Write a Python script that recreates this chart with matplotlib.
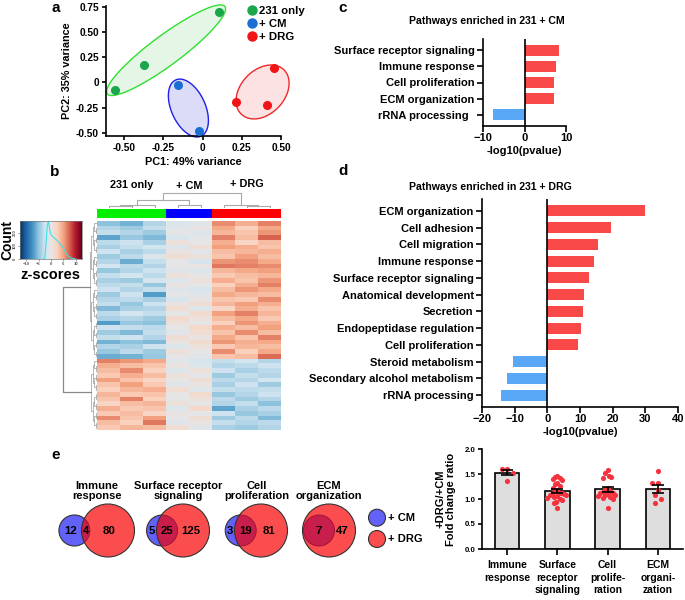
import numpy as np
import matplotlib.pyplot as plt
from matplotlib.colors import LinearSegmentedColormap, to_rgb
from matplotlib.lines import Line2D
from matplotlib.patches import Circle

plt.rcParams['font.family'] = ['Liberation Sans', 'DejaVu Sans']
plt.rcParams['font.weight'] = 'bold'
plt.rcParams['axes.labelweight'] = 'bold'
plt.rcParams['axes.linewidth'] = 1.2
plt.rcParams['xtick.major.width'] = 1.2
plt.rcParams['ytick.major.width'] = 1.2

# ---------------- data ----------------
# a: PCA
pca_groups = ['231 only', '+ CM', '+ DRG']
pc1_231 = [-0.56, -0.375, 0.105]
pc2_231 = [-0.08, 0.175, 0.70]
pc1_cm = [-0.155, -0.025]
pc2_cm = [-0.03, -0.48]
pc1_drg = [0.213, 0.457, 0.41]
pc2_drg = [-0.197, 0.148, -0.227]

# c: pathways in 231 + CM
cm_pathways = ['Surface receptor signaling', 'Immune response', 'Cell proliferation',
               'ECM organization', 'rRNA processing  ']
cm_logp = [8.3, 7.5, 7.2, 7.0, -7.7]

# d: pathways in 231 + DRG
drg_pathways = ['ECM organization', 'Cell adhesion', 'Cell migration', 'Immune response',
                'Surface receptor signaling', 'Anatomical development', 'Secretion',
                'Endopeptidase regulation', 'Cell proliferation', 'Steroid metabolism',
                'Secondary alcohol metabolism', 'rRNA processing']
drg_logp = [30.0, 19.6, 15.4, 14.4, 12.9, 11.2, 10.8, 10.4, 9.3, -10.4, -12.4, -14.2]

# b: heatmap z-scores (cols: 231 only x3, + CM x2, + DRG x3)
hm_groups = ['231 only', '+ CM', '+ DRG']
hm_group_sizes = [3, 2, 3]
z_cluster1 = [
    [-1.4, -1.6, -1.0, -0.3, -0.2, 1.6, 1.2, 1.7],
    [-1.0, -1.2, -0.8, -0.2, 0.1, 1.3, 0.7, 1.3],
    [-0.8, -1.0, -1.2, 0.0, -0.3, 1.1, 0.9, 1.5],
    [-1.8, -1.3, -1.5, -0.4, -0.1, 1.7, 1.0, 2.0],
    [-0.9, -0.7, -1.1, 0.2, 0.0, 1.2, 0.6, 1.0],
    [-1.1, -0.8, -0.6, -0.3, 0.3, 1.4, 1.2, 0.9],
    [-0.7, -1.1, -0.9, 0.1, -0.2, 1.0, 1.1, 1.2],
    [-1.2, -0.9, -0.3, 0.3, 0.2, 0.9, 1.4, 1.0],
    [-1.0, -1.7, -0.8, -0.1, -0.5, 1.5, 1.6, 1.3],
    [-0.6, -0.9, -1.0, 0.0, 0.1, 1.8, 1.7, 1.6],
    [-1.3, -1.0, -0.7, -0.2, -0.3, 1.1, 1.3, 1.4],
    [-0.8, -0.6, -0.9, 0.2, 0.0, 0.8, 1.0, 1.1],
    [-1.1, -1.2, -0.5, -0.3, 0.2, 1.2, 0.9, 1.5],
    [-0.9, -0.8, -1.3, 0.1, -0.1, 0.7, 1.2, 1.7],
    [-0.7, -1.0, -0.8, -0.2, -0.4, 1.0, 1.5, 1.3],
    [-1.2, -0.7, -1.9, 0.0, -0.2, 1.3, 1.1, 1.0],
    [-1.0, -0.9, -1.1, -0.4, 0.1, 0.9, 0.8, 1.6],
    [-0.8, -1.3, -0.7, 0.1, 0.3, 1.1, 1.4, 1.2],
    [-1.5, -1.1, -1.0, 0.3, -0.3, 0.6, 1.2, 0.9],
    [-0.9, -0.6, -0.8, -0.1, 0.4, 1.4, 1.7, 1.1],
    [-1.1, -1.0, -1.2, 0.4, 0.2, 1.0, 1.3, 0.8],
    [-1.9, -1.3, -1.4, 0.2, -0.1, 0.7, 1.5, 1.2],
    [-0.7, -0.8, -0.9, 0.0, 0.5, 1.2, 1.0, 1.4],
    [-1.2, -1.5, -0.8, -0.2, 0.3, 0.9, 1.6, 1.0],
    [-0.8, -0.7, -1.0, 0.3, 0.1, 1.3, 0.9, 1.7],
    [-1.6, -1.4, -1.5, 0.1, 0.4, 1.5, 1.2, 1.3],
    [-1.0, -1.1, -0.7, -0.3, 0.2, 0.8, 1.1, 1.0],
    [-1.3, -0.9, -1.2, 0.2, 0.0, 1.6, 0.7, 1.3],
    [-1.7, -1.6, -1.3, 0.0, -0.2, 0.9, 1.0, 1.9],
]
z_cluster2 = [
    [1.7, 1.5, 1.3, -0.2, -0.5, -0.8, -0.6, -1.0],
    [1.2, 1.0, 0.9, 0.1, -0.3, -1.0, -0.9, -0.7],
    [1.0, 1.6, 0.7, -0.3, 0.2, -0.7, -1.1, -0.9],
    [0.8, 1.2, 1.0, 0.2, -0.1, -1.2, -0.8, -1.0],
    [1.4, 0.9, 0.6, 0.0, 0.3, -0.9, -1.0, -0.6],
    [0.9, 1.4, 0.8, -0.2, 0.1, -1.1, -0.7, -1.2],
    [0.7, 1.1, 1.2, 0.3, -0.2, -0.8, -0.9, -0.8],
    [1.1, 0.8, 0.9, 0.0, 0.4, -1.3, -1.0, -0.7],
    [0.9, 1.7, 0.7, -0.1, 0.2, -0.9, -1.2, -1.0],
    [0.6, 1.0, 1.1, 0.2, 0.0, -1.0, -0.8, -1.4],
    [1.2, 0.8, 0.9, -0.3, 0.5, -1.8, -1.1, -0.9],
    [0.8, 1.0, 0.6, 0.1, -0.1, -0.7, -1.3, -1.1],
    [1.6, 0.9, 1.4, 0.0, 0.3, -1.2, -0.9, -1.5],
    [1.0, 0.7, 1.8, -0.2, 0.1, -0.8, -1.0, -0.9],
    [0.8, 1.1, 1.0, 0.3, -0.2, -1.1, -1.2, -1.0],
]
# column dendrogram merges (left, right, height); leaves 0-7
col_merges = [(0, 1, 1.5), (8, 2, 2.0), (3, 4, 2.5), (6, 7, 1.2), (5, 11, 2.2),
              (9, 10, 6.0), (13, 12, 11.0)]
# colour key histogram
key_z = [-3, -2.5, -2, -1.5, -1, -0.5, 0, 1, 2, 3, 4, 5, 6, 7, 8, 9, 10]
key_count = [0, 10, 120, 260, 285, 220, 185, 165, 150, 130, 105, 82, 45, 22, 8, 3, 0]

# e: Venn counts
venn_titles = ['Immune\nresponse', 'Surface receptor\nsignaling', 'Cell\nproliferation',
               'ECM\norganization']
venn_cm_only = [12, 5, 3, 0]
venn_shared = [4, 25, 19, 7]
venn_drg_only = [80, 125, 81, 47]

# e: fold change ratios of shared genes
bar_labels = ['Immune\nresponse', 'Surface\nreceptor\nsignaling', 'Cell\nprolife-\nration',
              'ECM\norgani-\nzation']
ratio_immune = [1.61, 1.61, 1.52, 1.37]
ratio_surface = [1.47, 1.45, 1.42, 1.40, 1.38, 1.33, 1.30, 1.26, 1.22, 1.19, 1.16, 1.13, 1.12,
                 1.11, 1.10, 1.09, 1.08, 1.06, 1.05, 1.03, 1.01, 0.98, 0.95, 0.93, 0.83]
ratio_prolif = [1.58, 1.52, 1.47, 1.45, 1.43, 1.22, 1.20, 1.17, 1.15, 1.13, 1.12, 1.10, 1.09,
                1.08, 1.06, 1.05, 1.03, 1.00, 0.83]
ratio_ecm = [1.57, 1.32, 1.32, 1.18, 1.08, 1.00, 0.92]

# ---------------- figure ----------------
W, H = 685, 600
fig = plt.figure(figsize=(W / 100, H / 100), dpi=100)


def add_ax(left, top, width, height):
    return fig.add_axes([left / W, 1 - (top + height) / H, width / W, height / H])


def ftext(x, y, s, **kw):
    fig.text(x / W, 1 - y / H, s, **kw)


RED = '#f94848'
BLUE = '#59a8f7'

# ---- a ----
ax = add_ax(106, 6, 175, 130)
ax.set_xlim(-0.615, 0.5)
ax.set_ylim(-0.533, 0.76)
for s in ['top', 'right']:
    ax.spines[s].set_visible(False)
ax.set_xticks([-0.5, -0.25, 0, 0.25, 0.5])
ax.set_xticklabels(['-0.50', '-0.25', '0', '0.25', '0.50'])
ax.set_yticks([-0.5, -0.25, 0, 0.25, 0.5, 0.75])
ax.set_yticklabels(['-0.50', '-0.25', '0', '0.25', '0.50', '0.75'])
ax.tick_params(labelsize=7.3, length=3, pad=2)
ax.set_xlabel('PC1: 49% variance', fontsize=7.8, labelpad=3)
ax.set_ylabel('PC2: 35% variance', fontsize=7.8, labelpad=3)


def group_ellipse(xs, ys, pad, min_half, face, edge):
    pts = ax.transData.transform(np.column_stack([xs, ys]))
    c = pts.mean(axis=0)
    d = pts - c
    e1 = np.linalg.svd(d)[2][0]
    e2 = np.array([-e1[1], e1[0]])
    p1, p2 = d @ e1, d @ e2
    c = c + e1 * (p1.max() + p1.min()) / 2 + e2 * (p2.max() + p2.min()) / 2
    a = (p1.max() - p1.min()) / 2 + pad
    b = max((p2.max() - p2.min()) / 2 + pad, min_half)
    t = np.linspace(0, 2 * np.pi, 200)
    poly = c + np.outer(a * np.cos(t), e1) + np.outer(b * np.sin(t), e2)
    dd = ax.transData.inverted().transform(poly)
    ax.fill(dd[:, 0], dd[:, 1], facecolor=face, edgecolor=edge, lw=1.0, zorder=1, clip_on=False)


group_ellipse(pc1_231, pc2_231, 8, 15, '#e6f6e6', '#30e030')
group_ellipse(pc1_cm, pc2_cm, 6, 17, '#dcdcf8', '#2020e8')
group_ellipse(pc1_drg, pc2_drg, 5, 22, '#fce2e2', '#f02828')
ax.plot(pc1_231, pc2_231, 'o', color='#1aa64b', ms=5.5, zorder=3)
ax.plot(pc1_cm, pc2_cm, 'o', color='#1a6fd4', ms=5.5, zorder=3)
ax.plot(pc1_drg, pc2_drg, 'o', color='#f01414', ms=5.5, zorder=3)
handles = [Line2D([], [], ls='', marker='o', color=c, ms=6.5) for c in ['#1aa64b', '#1a6fd4', '#f01414']]
ax.legend(handles, pca_groups, loc='upper left',
          bbox_to_anchor=(246 / W, 1 - 6 / H), bbox_transform=fig.transFigure, frameon=False,
          handletextpad=0.1, handlelength=1, labelspacing=0.25, borderpad=0, borderaxespad=0,
          prop=dict(size=8.2, weight='bold'))


# ---- c, d ----
def pathway_panel(ax, names, vals, xlim, xticks):
    y = np.arange(len(names))
    ax.barh(y, vals, height=0.66, color=[RED if v > 0 else BLUE for v in vals], zorder=2)
    ax.axvline(0, color='black', lw=1.2, zorder=3)
    ax.set_ylim(len(names) - 1 + 0.7, -0.7)
    ax.set_xlim(*xlim)
    ax.set_yticks(y)
    ax.set_yticklabels(names)
    ax.set_xticks(xticks)
    for s in ['top', 'right']:
        ax.spines[s].set_visible(False)
    ax.tick_params(axis='y', labelsize=8, length=4, pad=2)
    ax.tick_params(axis='x', labelsize=8, length=4, pad=1)
    ax.set_xlabel('-log10(pvalue)', fontsize=8, labelpad=2)


axc = add_ax(483, 39, 83, 87)
pathway_panel(axc, cm_pathways, cm_logp, (-10, 10), [-10, 0, 10])
ftext(487, 21, 'Pathways enriched in 231 + CM', fontsize=7.6, ha='center', va='center')

axd = add_ax(482, 199, 196, 208)
pathway_panel(axd, drg_pathways, drg_logp, (-20, 40), [-20, -10, 0, 10, 20, 30, 40])
ftext(490, 187, 'Pathways enriched in 231 + DRG', fontsize=7.6, ha='center', va='center')

# ---- b ----
cmap = LinearSegmentedColormap.from_list('rdbu_grey', [
    '#053061', '#2166ac', '#4393c3', '#92c5de', '#d1e5f0', '#e6e6e6',
    '#fbd3c0', '#f4a582', '#d6604d', '#b2182b', '#67001f'])
zmat = np.array(z_cluster1 + z_cluster2)
n_rows = zmat.shape[0]

axh = add_ax(97, 221, 184, 209)
axh.imshow(zmat, aspect='auto', cmap=cmap, vmin=-3.4, vmax=3.4, interpolation='nearest')
axh.axis('off')

group_cols = ['#00f000', '#0000ff', '#ff0000']
col_idx = np.repeat(np.arange(3), hm_group_sizes)
axg = add_ax(97, 209, 184, 9)
axg.imshow([[to_rgb(group_cols[i]) for i in col_idx]], aspect='auto', interpolation='nearest')
axg.axis('off')

# column dendrogram
axcd = add_ax(97, 192, 184, 16)
pos = {i: i + 0.5 for i in range(8)}
hgt = {i: 0.0 for i in range(8)}
for k, (l, r, h) in enumerate(col_merges):
    node = 8 + k
    axcd.plot([pos[l], pos[l], pos[r], pos[r]], [hgt[l], h, h, hgt[r]], color='#aaaaaa', lw=0.8)
    pos[node] = (pos[l] + pos[r]) / 2
    hgt[node] = h
axcd.set_xlim(0, 8)
axcd.set_ylim(0, 12)
axcd.axis('off')
centers = np.cumsum([0] + hm_group_sizes[:-1]) + np.array(hm_group_sizes) / 2
for g, cx, dy in zip(hm_groups, centers, [185, 186, 184]):
    ftext(97 + cx * 23, dy, g, fontsize=7.8, ha='center', va='center')

# row dendrogram
axr = add_ax(55, 221, 42, 209)
axr.set_xlim(0, 1)
axr.set_ylim(n_rows - 0.5, -0.5)
axr.axis('off')


def sub_tree(lo, hi):
    n = hi - lo
    if n == 1:
        return 1.0, lo
    mid = lo + n // 2
    x1, y1 = sub_tree(lo, mid)
    x2, y2 = sub_tree(mid, hi)
    x = 1.0 - 0.035 * np.ceil(np.log2(n))
    axr.plot([x1, x, x, x2], [y1, y1, y2, y2], color='#999999', lw=0.5)
    return x, (y1 + y2) / 2


xa, ya = sub_tree(0, len(z_cluster1))
xb, yb = sub_tree(len(z_cluster1), n_rows)
axr.plot([xa, 0.18, 0.18, xb], [ya, ya, yb, yb], color='#888888', lw=0.9)

# colour key
axk = add_ax(20, 221, 62, 38)
grad = np.linspace(-12.5, 12.5, 256)[None, :]
axk.imshow(grad, aspect='auto', cmap=cmap, extent=(-12.5, 12.5, 0, 290), vmin=-12.5, vmax=12.5)
axk.plot(key_z, key_count, color='#40e0e8', lw=0.8)
axk.set_xlim(-12.5, 12.5)
axk.set_ylim(0, 290)
axk.set_xticks([-10, -5, 0, 5, 10])
axk.set_yticks([0, 100, 200])
axk.tick_params(labelsize=3, length=1.5, width=0.4, pad=1, colors='#555555')
for lab in axk.get_yticklabels():
    lab.set_rotation(90)
    lab.set_va('center')
for s in axk.spines.values():
    s.set_linewidth(0.5)
    s.set_color('#777777')
ftext(7, 240, 'Count', fontsize=10, rotation=90, ha='center', va='center')
ftext(50, 275, 'z-scores', fontsize=10.5, ha='center', va='center')

# ---- e: Venn ----
axv = add_ax(55, 470, 345, 100)
axv.set_xlim(55, 400)
axv.set_ylim(570, 470)
axv.axis('off')

r_cm, r_drg, cy = 15.5, 26.5, 530.5
red_x = [108, 183, 261, 329]
V_BLUE, V_RED, V_OVER = '#6262f8', '#fb4d4d', '#c81e4c'
for k in range(4):
    frac = venn_shared[k] / (venn_shared[k] + venn_cm_only[k])
    depth = 2 * r_cm * frac * 0.7 + 3
    d = r_cm + r_drg - depth
    if venn_cm_only[k] == 0:
        d = min(d, r_drg - r_cm - 1)
    rx = red_x[k]
    bx = rx - d
    blue = Circle((bx, cy), r_cm, facecolor=V_BLUE, edgecolor='#333333', lw=0.8, zorder=1)
    red = Circle((rx, cy), r_drg, facecolor=V_RED, edgecolor='none', zorder=2)
    axv.add_patch(blue)
    axv.add_patch(red)
    over = Circle((bx, cy), r_cm, facecolor=V_OVER, edgecolor='#9a1030', lw=0.6, zorder=3)
    axv.add_patch(over)
    over.set_clip_path(red)
    axv.add_patch(Circle((rx, cy), r_drg, facecolor='none', edgecolor='#333333', lw=0.8, zorder=4))
    left = min(bx - r_cm, rx - r_drg)
    ftext((left + rx + r_drg) / 2, 491, venn_titles[k], fontsize=8, ha='center',
          va='center', linespacing=1.05)
    if venn_cm_only[k] > 0:
        axv.text((bx - r_cm + rx - r_drg) / 2, cy, str(venn_cm_only[k]), fontsize=8.2,
                 ha='center', va='center', zorder=5)
        axv.text((rx - r_drg + bx + r_cm) / 2, cy, str(venn_shared[k]), fontsize=8.2,
                 ha='center', va='center', zorder=5)
    else:
        axv.text(bx, cy, str(venn_shared[k]), fontsize=8.2, ha='center', va='center', zorder=5)
    axv.text((bx + r_cm + rx + r_drg) / 2 - 3, cy, str(venn_drg_only[k]), fontsize=8.2,
             ha='center', va='center', zorder=5)

for yy, col, lab in [(517.7, V_BLUE, '+ CM'), (539, V_RED, '+ DRG')]:
    axv.add_patch(Circle((377, yy), 8.5, facecolor=col, edgecolor='#333333', lw=0.8))
    axv.text(388, yy, lab, fontsize=8, ha='left', va='center')

# ---- e: bars ----
axb = add_ax(482, 449, 201, 100)
groups = [ratio_immune, ratio_surface, ratio_prolif, ratio_ecm]
xb_ = np.arange(len(groups))
means = [np.mean(g) for g in groups]
sems = [np.std(g, ddof=1) / np.sqrt(len(g)) for g in groups]
axb.bar(xb_, means, width=0.49, color='#dedede', edgecolor='black', lw=1.2, zorder=1)
axb.errorbar(xb_, means, yerr=sems, fmt='none', ecolor='black', capsize=4, elinewidth=1.2,
             capthick=1.2, zorder=4)
axb.set_xlim(-0.5, 3.5)
axb.set_ylim(0, 2.0)
# swarm placement in pixel units, squeezed to a fixed half-width
px_x, px_y, dot, half_w = 50.4, 50.0, 5.6, 10.0
for i, g in enumerate(groups):
    placed = []
    for v in g:
        yv = v * px_y
        k = 0
        while True:
            cand = [0.0] if k == 0 else [-k * 0.5 * dot, k * 0.5 * dot]
            okc = [c for c in cand
                   if all((c - px) ** 2 + (yv - py) ** 2 >= dot ** 2 for px, py in placed)]
            if okc:
                break
            k += 1
        placed.append((okc[0], yv))
    offs = np.array([p[0] for p in placed])
    if np.abs(offs).max() > half_w:
        offs = offs * half_w / np.abs(offs).max()
    axb.scatter(i + offs / px_x, g, s=14, color='#f5333f', zorder=3, linewidths=0)
for s in ['top', 'right']:
    axb.spines[s].set_visible(False)
axb.set_yticks([0, 0.5, 1.0, 1.5, 2.0])
axb.set_yticklabels(['0.0', '0.5', '1.0', '1.5', '2.0'])
axb.tick_params(axis='y', labelsize=5.7, length=3, pad=1.5)
axb.set_xticks(xb_)
axb.set_xticklabels(bar_labels, linespacing=1.3)
axb.tick_params(axis='x', labelsize=7.5, length=4, pad=4)
axb.set_ylabel('+DRG/+CM\nFold change ratio', fontsize=8, labelpad=6, linespacing=1.1)

# panel letters
for lab, x, y in [('a', 56, 8), ('b', 55, 172), ('c', 343, 8), ('d', 343, 171), ('e', 56, 455)]:
    ftext(x, y, lab, fontsize=11, ha='center', va='center')

fig.savefig('out.png', dpi=100)
